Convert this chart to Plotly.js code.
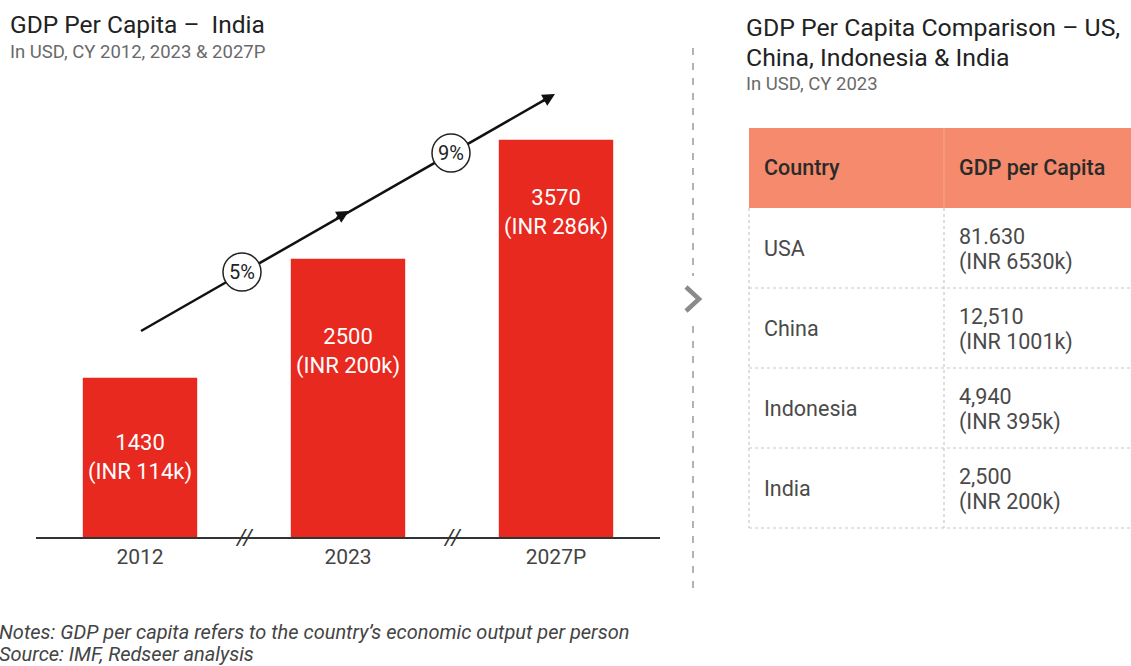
<!DOCTYPE html>
<html>
<head>
<meta charset="utf-8">
<script src="https://cdn.plot.ly/plotly-3.0.1.min.js"></script>
<style>html,body{margin:0;padding:0;background:#fff;}#chart{width:1131px;height:666px;}</style>
</head>
<body>
<div id="chart"></div>
<script>
// ---- data ----
const years = ['2012', '2023', '2027P'];
const gdpUsd = [1430, 2500, 3570];
const gdpInr = ['114k', '200k', '286k'];
const cagrLabels = ['5%', '9%'];
const countries = ['USA', 'China', 'Indonesia', 'India'];
const countryGdp = ['81.630', '12,510', '4,940', '2,500'];
const countryInr = ['6530k', '1001k', '395k', '200k'];
const tableHeader = ['Country', 'GDP per Capita'];

// ---- layout helpers ----
const W = 1131, H = 666;
const FONT = 'Roboto, "Open Sans", sans-serif';
const RED = '#E8291F';
const SALMON = '#F58B6C';
const axL = 36, axR = 660, axB = 537, axT = 80;
const yMax = 4106;
const px = x => x / W;
const py = y => 1 - y / H;
// pixel -> data helpers for decorations on the bar chart
const dx = x => (x - axL) / ((axR - axL) / 3) - 0.5;
const dy = y => (axB - y) / (axB - axT) * yMax;

const labelY = [715, 1670, 2911];

const barTrace = {
  type: 'bar', x: years, y: gdpUsd, width: 0.55,
  marker: {color: RED}, hoverinfo: 'skip', showlegend: false
};

const annotations = [];
const shapes = [];

function txt(x, y, text, size, color, opts) {
  annotations.push(Object.assign({
    xref: 'paper', yref: 'paper', x: px(x), y: py(y), text: text, showarrow: false,
    xanchor: 'left', yanchor: 'middle', font: {family: FONT, size: size, color: color}
  }, opts || {}));
}
// titles
txt(8, 25, 'GDP Per Capita \u2013  India', 24.5, '#222');
txt(8, 52, 'In USD, CY 2012, 2023 & 2027P', 18.5, '#6a6a6a');
txt(744, 27, 'GDP Per Capita Comparison \u2013 US,', 24.8, '#222');
txt(744, 57, 'China, Indonesia & India', 24.8, '#222');
txt(744, 84, 'In USD, CY 2023', 18.5, '#6a6a6a');
const noteFont = {family: FONT, size: 20, color: '#444', style: 'italic'};
txt(-3, 632, 'Notes: GDP per capita refers to the country\u2019s economic output per person', 20, '#444', {font: noteFont});
txt(-3, 654, 'Source: IMF, Redseer analysis', 20, '#444', {font: noteFont});

// bar labels
years.forEach((yr, i) => {
  annotations.push({
    xref: 'x', yref: 'y', x: i, y: labelY[i], showarrow: false,
    text: gdpUsd[i] + '<br>(INR ' + gdpInr[i] + ')',
    font: {family: FONT, size: 22, color: '#fff'}, align: 'center'
  });
});

// axis break marks
[0.5, 1.5].forEach(b => {
  annotations.push({xref: 'x', yref: 'y', x: b, y: 0, showarrow: false, text: '//',
    yanchor: 'middle', font: {family: FONT, size: 22, color: '#333', style: 'italic'}});
});

// trend line
const p0 = [141, 331], p1 = [555, 94];
shapes.push({type: 'line', xref: 'x', yref: 'y', x0: dx(p0[0]), y0: dy(p0[1]), x1: dx(p1[0] - 6), y1: dy(p1[1] + 3.4),
  line: {color: '#111', width: 2.5}, layer: 'above'});
const ux = 0.868, uy = 0.497;
[[555, 94], [349, 211]].forEach(p => {
  annotations.push({xref: 'x', yref: 'y', x: dx(p[0]), y: dy(p[1]), text: '', showarrow: true,
    ax: -ux * 16, ay: uy * 16, arrowhead: 2, arrowsize: 1, arrowwidth: 2.5, arrowcolor: '#111'});
});
// CAGR circles
const circ = [[242, 272], [451, 153]];
circ.forEach((c, i) => {
  shapes.push({type: 'circle', xref: 'x', yref: 'y', xsizemode: 'pixel', ysizemode: 'pixel',
    xanchor: dx(c[0]), yanchor: dy(c[1]), x0: -19, x1: 19, y0: -19, y1: 19,
    fillcolor: '#fff', line: {color: '#222', width: 1.5}, layer: 'above'});
  annotations.push({xref: 'x', yref: 'y', x: dx(c[0]), y: dy(c[1]), text: cagrLabels[i], showarrow: false,
    font: {family: FONT, size: 20, color: '#222'}});
});

// divider and chevron
shapes.push({type: 'line', xref: 'paper', yref: 'paper', x0: px(693), x1: px(693), y0: py(48), y1: py(276),
  line: {color: '#9a9a9a', width: 1.5, dash: '7px,8px'}});
shapes.push({type: 'line', xref: 'paper', yref: 'paper', x0: px(693), x1: px(693), y0: py(326), y1: py(595),
  line: {color: '#9a9a9a', width: 1.5, dash: '7px,8px'}});
shapes.push({type: 'path', xref: 'paper', yref: 'paper',
  path: `M ${px(686)} ${py(287)} L ${px(699)} ${py(299)} L ${px(686)} ${py(311)}`,
  line: {color: '#8a8a8a', width: 4.5}});

// ---- table (built from the arrays) ----
const tX = [749, 944], tTop = 128, hdrH = 80, rowH = 80, tRight = 1140, pad = 13;
shapes.push({type: 'rect', xref: 'paper', yref: 'paper', x0: px(tX[0]), x1: px(tRight),
  y0: py(tTop), y1: py(tTop + hdrH), fillcolor: SALMON, line: {width: 0}});
shapes.push({type: 'line', xref: 'paper', yref: 'paper', x0: px(tX[1]), x1: px(tX[1]),
  y0: py(tTop), y1: py(tTop + hdrH), line: {color: '#F8A68E', width: 1}});
tableHeader.forEach((h, j) => {
  txt(tX[j] + pad, tTop + hdrH / 2, h, 21.5, '#2a2a2a', {font: {family: FONT, size: 21.5, color: '#2a2a2a', weight: 500}});
});
const tBot = tTop + hdrH + rowH * countries.length;
countries.forEach((c, i) => {
  const yc = tTop + hdrH + rowH * i + rowH / 2;
  txt(tX[0] + pad, yc, c, 21.5, '#4a4a4a');
  txt(tX[1] + pad, yc - 12, countryGdp[i], 21.5, '#4a4a4a');
  txt(tX[1] + pad, yc + 14, '(INR ' + countryInr[i] + ')', 21.5, '#4a4a4a');
  const yl = tTop + hdrH + rowH * (i + 1);
  shapes.push({type: 'line', xref: 'paper', yref: 'paper', x0: px(tX[0]), x1: px(tRight), y0: py(yl), y1: py(yl),
    line: {color: '#c8c8c8', width: 1.2, dash: '3px,3px'}});
});
tX.forEach(x => {
  shapes.push({type: 'line', xref: 'paper', yref: 'paper', x0: px(x), x1: px(x), y0: py(tTop + hdrH), y1: py(tBot),
    line: {color: '#c8c8c8', width: 1.2, dash: '3px,3px'}});
});

const layout = {
  width: W, height: H,
  margin: {l: 0, r: 0, t: 0, b: 0},
  paper_bgcolor: '#fff', plot_bgcolor: 'rgba(0,0,0,0)',
  showlegend: false,
  font: {family: FONT},
  xaxis: {type: 'category', domain: [px(axL), px(axR)], range: [-0.5, 2.5],
    showline: true, linecolor: '#333', linewidth: 2, ticks: '', showgrid: false, zeroline: false,
    tickfont: {family: FONT, size: 21, color: '#444'}, fixedrange: true},
  yaxis: {domain: [py(axB), py(axT)], range: [0, yMax], visible: false, fixedrange: true},
  shapes: shapes,
  annotations: annotations
};

Plotly.newPlot('chart', [barTrace], layout, {displayModeBar: false, staticPlot: true});
</script>
</body>
</html>
